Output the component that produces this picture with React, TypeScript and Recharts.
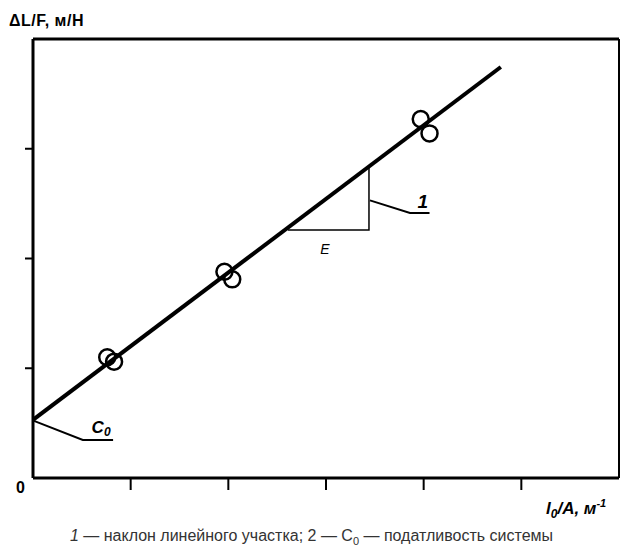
import { ComposedChart, Line, Scatter, XAxis, YAxis, ReferenceLine } from "recharts";

// measured points (two readings per specimen)
const pointsX = [0.76, 0.83, 1.96, 2.04, 3.97, 4.06];
const pointsY = [1.1, 1.06, 1.88, 1.81, 3.27, 3.14];

// fitted line
const fitX = [0, 4.79];
const fitY = [0.53, 3.745];

// slope triangle
const triX = [2.61, 3.44, 3.44];
const triY = [2.26, 2.26, 2.825];

// leaders
const lead1X = [3.45, 3.86, 4.06];
const lead1Y = [2.53, 2.415, 2.415];
const leadCX = [0.01, 0.51, 0.82];
const leadCY = [0.52, 0.346, 0.346];

const xTicks = [1, 2, 3, 4, 5];
const yTicks = [1, 2, 3];

const zip = (xs: number[], ys: number[]) => xs.map((x, i) => ({ x, y: ys[i] }));

const points = zip(pointsX, pointsY);
const fit = zip(fitX, fitY);
const tri = zip(triX, triY);
const lead1 = zip(lead1X, lead1Y);
const leadC = zip(leadCX, leadCY);

const notes = [
  { x: 3.99, y: 2.46, text: "1", kind: "one" },
  { x: 2.99, y: 2.04, text: "E", kind: "e" },
  { x: 0.6, y: 0.41, text: "C", kind: "c" },
];

const font = "'Liberation Sans', Arial, sans-serif";

function Circle(props: any) {
  return <circle cx={props.cx} cy={props.cy} r={8} fill="none" stroke="#000" strokeWidth={2.5} />;
}

function Note(props: any) {
  const p = props.payload;
  if (p.kind === "one") {
    return <text x={props.cx} y={props.cy} textAnchor="middle" fontFamily={font} fontSize={19} fontWeight="bold" fontStyle="italic">{p.text}</text>;
  }
  if (p.kind === "e") {
    return <text x={props.cx} y={props.cy} textAnchor="middle" fontFamily={font} fontSize={14} fontStyle="italic">{p.text}</text>;
  }
  return (
    <text x={props.cx} y={props.cy} fontFamily={font} fontSize={17} fontWeight="bold" fontStyle="italic">
      {p.text}
      <tspan fontSize={12} dy={3}>0</tspan>
    </text>
  );
}

export default function App() {
  return (
    <div style={{ position: "absolute", left: 0, top: 0, width: 623, height: 554, background: "#fff" }}>
      <ComposedChart width={623} height={554} margin={{ top: 39, right: 4, bottom: 46, left: 13 }}>
        <XAxis
          type="number" dataKey="x" domain={[0, 6]} ticks={xTicks} allowDataOverflow
          tickFormatter={() => ""} tickSize={12} height={30}
          axisLine={{ stroke: "#000", strokeWidth: 3 }} tickLine={{ stroke: "#000", strokeWidth: 2 }}
        />
        <YAxis
          type="number" dataKey="y" domain={[0, 4]} ticks={yTicks} allowDataOverflow
          tickFormatter={() => ""} tickSize={8} width={20}
          axisLine={{ stroke: "#000", strokeWidth: 3 }} tickLine={{ stroke: "#000", strokeWidth: 2 }}
        />
        <ReferenceLine y={4} stroke="#000" strokeWidth={3} />
        <ReferenceLine x={6} stroke="#000" strokeWidth={2} />
        <Line data={fit} dataKey="y" stroke="#000" strokeWidth={4} dot={false} isAnimationActive={false} />
        <Line data={tri} dataKey="y" stroke="#000" strokeWidth={1.5} dot={false} isAnimationActive={false} />
        <Line data={lead1} dataKey="y" stroke="#000" strokeWidth={2} dot={false} isAnimationActive={false} />
        <Line data={leadC} dataKey="y" stroke="#000" strokeWidth={2} dot={false} isAnimationActive={false} />
        <Scatter data={points} dataKey="y" shape={<Circle />} isAnimationActive={false} />
        <Scatter data={notes} dataKey="y" shape={<Note />} isAnimationActive={false} />
      </ComposedChart>
      <div style={{ position: "absolute", left: 9, top: 12, fontFamily: font, fontWeight: "bold", fontSize: 16, letterSpacing: 0.5 }}>
        ΔL/F, м/Н
      </div>
      <div style={{ position: "absolute", left: 16, top: 479, fontFamily: font, fontWeight: "bold", fontSize: 16 }}>
        0
      </div>
      <div style={{ position: "absolute", left: 546, top: 497, fontFamily: font, fontWeight: "bold", fontStyle: "italic", fontSize: 17, whiteSpace: "nowrap" }}>
        l<sub style={{ fontSize: 12 }}>0</sub>/A, м<sup style={{ fontSize: 11 }}>-1</sup>
      </div>
      <div style={{ position: "absolute", left: 0, width: 623, top: 527, textAlign: "center", fontFamily: font, fontSize: 16, color: "#333", whiteSpace: "nowrap" }}>
        <i>1</i> — наклон линейного участка; 2 — C<sub style={{ fontSize: 11 }}>0</sub> — податливость системы
      </div>
    </div>
  );
}
